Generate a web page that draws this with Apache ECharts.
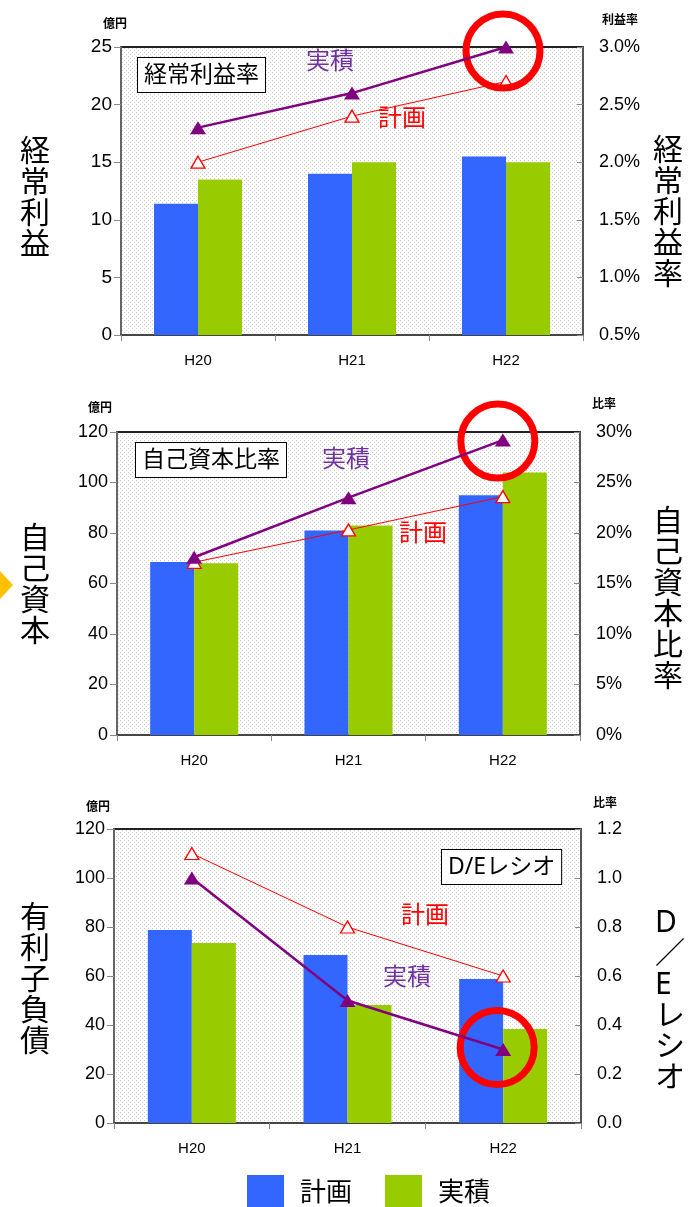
<!DOCTYPE html>
<html>
  <head>
    <meta charset="utf-8" />
    <title>経常利益・自己資本・有利子負債</title>
    <script src="https://cdn.jsdelivr.net/npm/echarts@6/dist/echarts.min.js"></script>
    <style>
      html, body { margin: 0; padding: 0; background: #fff; }
      #main { width: 691px; height: 1207px; }
    </style>
  </head>
  <body>
    <div id="main"></div>
    <script type="text/javascript">
      // data
      var years = ['H20', 'H21', 'H22'];

      var profitPlan = [11.4, 14.0, 15.5];
      var profitActual = [13.5, 15.0, 15.0];
      var profitRatePlan = [2.0, 2.4, 2.7];
      var profitRateActual = [2.3, 2.6, 3.0];

      var equityPlan = [68.5, 81, 95];
      var equityActual = [68, 83, 104];
      var equityRatioPlan = [17.1, 20.3, 23.6];
      var equityRatioActual = [17.6, 23.5, 29.2];

      var debtPlan = [78.8, 68.6, 58.8];
      var debtActual = [73.5, 48.2, 38.4];
      var deRatioPlan = [1.1, 0.8, 0.6];
      var deRatioActual = [1.0, 0.5, 0.3];

      var JP = '"Noto Sans", "Noto Sans CJK JP", sans-serif';
      var NUM = '"Liberation Sans", Arial, sans-serif';
      var BLUE = '#3366FF', GREEN = '#99CC00', RED = '#FF0000', PURPLE = '#800080';

      // dotted plot background
      function dots() {
        var c = document.createElement('canvas');
        c.width = 4; c.height = 4;
        var g = c.getContext('2d');
        g.fillStyle = '#ffffff';
        g.fillRect(0, 0, 4, 4);
        g.fillStyle = '#cccccc';
        g.fillRect(0, 0, 1, 1);
        g.fillRect(2, 2, 1, 1);
        return c;
      }
      var pattern = { image: dots(), repeat: 'repeat' };

      var grids = [
        { left: 121, right: 108, top: 47, height: 288 },
        { left: 117, right: 111, top: 432, height: 303 },
        { left: 114, right: 110, top: 829, height: 294 }
      ];

      var chart = echarts.init(document.getElementById('main'));

      function leftAxis(i, max, interval, size) {
        return {
          type: 'value', gridIndex: i, position: 'left', min: 0, max: max, interval: interval,
          axisLine: { show: true, lineStyle: { color: '#666', width: 2 } },
          axisTick: { show: true, length: 7, lineStyle: { color: '#888' } },
          axisLabel: { margin: 9, color: '#000', fontSize: size, fontFamily: NUM },
          splitLine: { show: false }
        };
      }
      function rightAxis(i, min, max, interval, fmt) {
        return {
          type: 'value', gridIndex: i, position: 'right', min: min, max: max, interval: interval,
          axisLine: { show: true, lineStyle: { color: '#555', width: 2 } },
          axisTick: { show: true, inside: true, length: 6, lineStyle: { color: '#888' } },
          axisLabel: { margin: 16, color: '#000', fontSize: 18, fontFamily: NUM, formatter: fmt },
          splitLine: { show: false }
        };
      }
      function catAxis(i) {
        return {
          type: 'category', gridIndex: i, data: years,
          axisLine: { show: true, lineStyle: { color: '#444', width: 2 } },
          axisTick: { show: true, length: 6, lineStyle: { color: '#888' } },
          axisLabel: { margin: 18, color: '#000', fontSize: 15, fontFamily: NUM }
        };
      }

      function bars(i, plan, actual) {
        return [
          { name: '計画', type: 'bar', xAxisIndex: i, yAxisIndex: i * 2, data: plan,
            barWidth: 44, barGap: '0%', itemStyle: { color: BLUE } },
          { name: '実積', type: 'bar', xAxisIndex: i, yAxisIndex: i * 2, data: actual,
            barWidth: 44, barGap: '0%', itemStyle: { color: GREEN } }
        ];
      }
      function lines(i, plan, actual, ringAt, ringOffset) {
        return [
          { name: '計画(率)', type: 'line', xAxisIndex: i, yAxisIndex: i * 2 + 1, data: plan, z: 4,
            symbol: 'triangle', symbolSize: [14, 12],
            lineStyle: { color: RED, width: 1 },
            itemStyle: { color: '#ffffff', borderColor: RED, borderWidth: 1.3 } },
          { name: '実積(率)', type: 'line', xAxisIndex: i, yAxisIndex: i * 2 + 1, data: actual, z: 5,
            symbol: 'triangle', symbolSize: [16, 13],
            lineStyle: { color: PURPLE, width: 2.5 },
            itemStyle: { color: PURPLE },
            markPoint: {
              symbol: 'circle', symbolSize: 74, symbolOffset: ringOffset, silent: true,
              itemStyle: { color: 'rgba(0,0,0,0)', borderColor: RED, borderWidth: 7 },
              label: { show: false },
              data: [{ coord: [years[2], ringAt] }]
            } }
        ];
      }

      function vtext(x, y, s) {
        return { type: 'text', left: x, top: y, z: 10,
          style: { text: s.split('').join('\n'), fontSize: 30, lineHeight: 31,
            fontFamily: JP, fill: '#000', align: 'center' } };
      }
      function ctext(x, y, s, color, size, weight) {
        return { type: 'text', x: x, y: y, z: 10,
          style: { text: s, fontSize: size, fontFamily: JP, fill: color, fontWeight: weight || 'normal',
            align: 'center', verticalAlign: 'middle' } };
      }
      function box(x, y, s) {
        return { type: 'text', left: x, top: y, z: 10,
          style: { text: s, fontSize: 23, fontFamily: JP, fill: '#000',
            backgroundColor: '#fff', borderColor: '#000', borderWidth: 1,
            padding: [6, 6, 5, 6] } };
      }

      var option = {
        animation: false,
        grid: grids.map(function (g) {
          return Object.assign({ show: true, backgroundColor: pattern,
            borderColor: '#222', borderWidth: 2 }, g);
        }),
        xAxis: [catAxis(0), catAxis(1), catAxis(2)],
        yAxis: [
          leftAxis(0, 25, 5, 19),
          rightAxis(0, 0.5, 3.0, 0.5, function (v) { return v.toFixed(1) + '%'; }),
          leftAxis(1, 120, 20, 18),
          rightAxis(1, 0, 30, 5, function (v) { return Math.round(v) + '%'; }),
          leftAxis(2, 120, 20, 18),
          rightAxis(2, 0, 1.2, 0.2, function (v) { return v.toFixed(1); })
        ],
        legend: {
          data: ['計画', '実積'], left: 247, top: 1175, padding: 0,
          icon: 'rect', itemWidth: 37, itemHeight: 37, itemGap: 33,
          textStyle: { fontSize: 26, fontFamily: JP, color: '#000', padding: [0, 0, 0, 11] }
        },
        series: [].concat(
          bars(0, profitPlan, profitActual),
          lines(0, profitRatePlan, profitRateActual, profitRateActual[2], [-3, 4]),
          bars(1, equityPlan, equityActual),
          lines(1, equityRatioPlan, equityRatioActual, equityRatioActual[2], [-5, 1]),
          bars(2, debtPlan, debtActual),
          lines(2, deRatioPlan, deRatioActual, deRatioActual[2], [-6, -2])
        ),
        graphic: [
          // unit labels
          ctext(115, 25, '億円', '#000', 12, 'bold'),
          ctext(620, 21, '利益率', '#000', 12, 'bold'),
          ctext(100, 409, '億円', '#000', 12, 'bold'),
          ctext(604, 405, '比率', '#000', 12, 'bold'),
          ctext(98, 808, '億円', '#000', 12, 'bold'),
          ctext(605, 804, '比率', '#000', 12, 'bold'),
          // big vertical titles
          vtext(20, 137, '経常利益'),
          vtext(653, 136, '経常利益率'),
          vtext(20, 524, '自己資本'),
          vtext(653, 507, '自己資本比率'),
          vtext(20, 903, '有利子負債'),
          vtext(655, 908, 'D／Eレシオ'),
          // boxes
          box(137, 57, '経常利益率'),
          box(135, 442, '自己資本比率'),
          box(441, 849, 'D/Eレシオ'),
          // series captions
          ctext(330, 62, '実積', '#7030A0', 24),
          ctext(402, 119, '計画', RED, 24),
          ctext(346, 460, '実積', '#7030A0', 24),
          ctext(423, 534, '計画', RED, 24),
          ctext(425, 916, '計画', RED, 24),
          ctext(407, 978, '実積', '#7030A0', 24),
          // arrow marker at the left edge
          { type: 'polygon', z: 10, shape: { points: [[0, 571], [13, 585], [0, 599]] },
            style: { fill: '#FFC000' } }
        ]
      };

      chart.setOption(option);
    </script>
  </body>
</html>
